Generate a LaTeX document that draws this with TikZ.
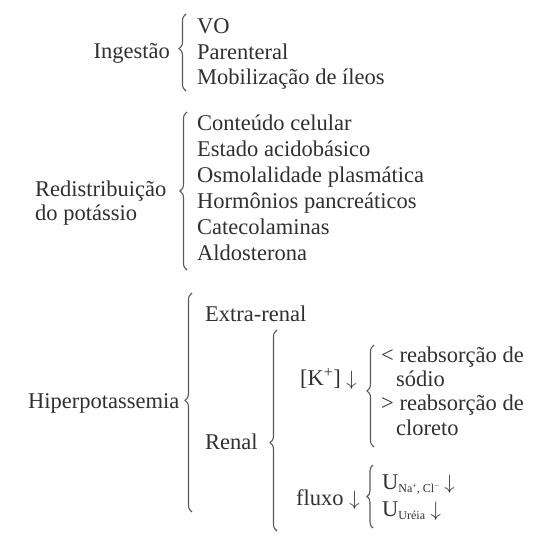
\documentclass[tikz,border=0pt]{standalone}
\usepackage{fontspec}
\setmainfont{Liberation Serif}
\usetikzlibrary{decorations.pathreplacing}
\definecolor{ink}{HTML}{303030}
\definecolor{bracegray}{HTML}{5A5A5A}
\newcommand{\dn}{$\downarrow$}
% small lowered index, kept shallow so stacked lines do not collide
\newcommand{\idx}[1]{\raisebox{-3pt}{\fontsize{12}{12}\selectfont #1}}
\newcommand{\upx}[1]{\raisebox{4pt}{\fontsize{8}{8}\selectfont #1}}
\begin{document}
\begin{tikzpicture}[x=1pt,y=-1pt,
  txt/.style={inner sep=0pt,text=ink,font=\fontsize{22.5}{26}\selectfont},
  item/.style={txt,anchor=base west},
  lbl/.style={txt,anchor=base east},
  curly/.style={draw=bracegray,line width=1.1pt,decorate,
    decoration={brace,amplitude=#1}},
  curly/.default=7pt]
\useasboundingbox (0,0) rectangle (546,533);

% --- Ingestão
\node[lbl]  (ing) at (170,58) {Ingestão};
\coordinate (ingT) at (186,14);
\coordinate (ingB) at (186,91);
\draw[curly,decoration={aspect=0.55}] (ingB) -- (ingT);
\node[item] (vo)  at (197,33) {VO};
\node[item] (par) at (197,59) {Parenteral};
\node[item] (mob) at (197,84) {Mobilização de íleos};

% --- Redistribuição do potássio
\node[item] (red1) at (35,196) {Redistribuição};
\node[item] (red2) at (35,220) {do potássio};
\coordinate (redT) at (187,112);
\coordinate (redB) at (187,270);
\draw[curly,decoration={aspect=0.5}] (redB) -- (redT);
\node[item] (r1) at (197,130) {Conteúdo celular};
\node[item] (r2) at (197,156) {Estado acidobásico};
\node[item] (r3) at (197,182) {Osmolalidade plasmática};
\node[item] (r4) at (197,208) {Hormônios pancreáticos};
\node[item] (r5) at (197,234) {Catecolaminas};
\node[item] (r6) at (197,260) {Aldosterona};

% --- Hiperpotassemia
\node[item] (hip) at (28,408) {Hiperpotassemia};
\coordinate (hipT) at (192,293);
\coordinate (hipB) at (192,512);
\draw[curly,decoration={aspect=0.51}] (hipB) -- (hipT);
\node[item] (ext) at (205,321) {Extra-renal};
\node[item] (ren) at (205,449) {Renal};
\coordinate (renT) at (277,330);
\coordinate (renB) at (277,531);
\draw[curly,decoration={aspect=0.44}] (renB) -- (renT);

% [K+] branch
\node[item] (k) at (300,385) {[K\textsuperscript{+}] \dn};
\coordinate (kT) at (374,345);
\coordinate (kB) at (374,447);
\draw[curly,decoration={aspect=0.55}] (kB) -- (kT);
\node[item] (k1) at (381,362) {< reabsorção de};
\node[item] (k2) at (396,386) {sódio};
\node[item] (k3) at (381,410) {> reabsorção de};
\node[item] (k4) at (396,435) {cloreto};

% fluxo branch
\node[item] (flx) at (296,505) {fluxo \dn};
\coordinate (fT) at (373,465);
\coordinate (fB) at (373,528);
\draw[curly=6pt,decoration={aspect=0.5}] (fB) -- (fT);
\node[item] (u1) at (382,489) {U\idx{Na\upx{+}, Cl\upx{−}} \dn};
\node[item] (u2) at (382,516) {U\idx{Uréia} \dn};
\end{tikzpicture}
\end{document}
